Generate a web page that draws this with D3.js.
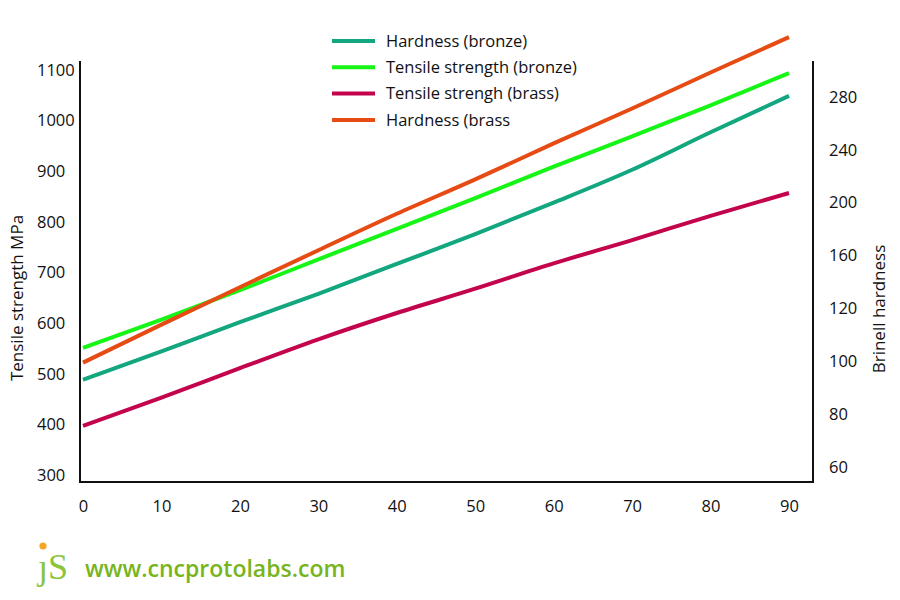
<!DOCTYPE html>
<html>
<head>
<meta charset="utf-8">
<script src="https://cdn.jsdelivr.net/npm/d3@7"></script>
<style>
  body { margin: 0; background: #fff; }
  text { font-family: "Open Sans", "Noto Sans", sans-serif; fill: #111; }
</style>
</head>
<body>
<svg id="chart"></svg>
<script>
// x positions (same for every series)
const xValues = [0, 10, 20, 30, 40, 50, 60, 70, 80, 90];

// values, in left-axis units (MPa)
const hardnessBronze = [488, 544, 602, 658, 717, 776, 838, 903, 977, 1049];
const tensileBronze = [551, 607, 665, 726, 786, 847, 909, 969, 1030, 1094];
const tensileBrass = [397, 453, 511, 568, 620, 668, 718, 764, 812, 857];
const hardnessBrass = [522, 597, 671, 744, 816, 884, 955, 1024, 1095, 1165];

const seriesNames = ["Hardness (bronze)", "Tensile strength (bronze)", "Tensile strengh (brass)", "Hardness (brass"];
const seriesColors = ["#12a77e", "#17f516", "#c3044c", "#e74b14"];

const leftTicks = [300, 400, 500, 600, 700, 800, 900, 1000, 1100];
const rightTicks = [60, 80, 100, 120, 160, 200, 240, 280];
const xTicks = [0, 10, 20, 30, 40, 50, 60, 70, 80, 90];

const width = 900, height = 600;
const frame = { left: 80, right: 813, top: 61, bottom: 482 };

const svg = d3.select('#chart')
  .attr('width', width)
  .attr('height', height);

const x = d3.scaleLinear().domain([0, 90]).range([83, 789]);
const yL = d3.scaleLinear().domain([300, 1100]).range([475, 70]);
// right axis labels are evenly spaced even though the steps are not
const yR = d3.scaleLinear()
  .domain(rightTicks)
  .range(rightTicks.map((d, i) => 467 - i * (370 / (rightTicks.length - 1))));

// axis frame
svg.append('path')
  .attr('d', `M${frame.left},${frame.top}V${frame.bottom}H${frame.right}V${frame.top}`)
  .attr('fill', 'none')
  .attr('stroke', '#111')
  .attr('stroke-width', 2);

function styleTicks(g) {
  g.select('.domain').remove();
  g.selectAll('text')
    .style('font-size', '16.5px')
    .style('font-family', '"Open Sans", sans-serif')
    .style('fill', '#111');
}

// left axis labels
const gL = svg.append('g')
  .attr('transform', 'translate(37,0)')
  .call(d3.axisLeft(yL).tickValues(leftTicks).tickFormat(d3.format('d')).tickSize(0).tickPadding(0));
styleTicks(gL);
gL.selectAll('text')
  .attr('text-anchor', 'start')
  .attr('x', 0);

// right axis labels
const gR = svg.append('g')
  .attr('transform', 'translate(829,0)')
  .call(d3.axisRight(yR).tickValues(rightTicks).tickSize(0).tickPadding(0));
styleTicks(gR);

// x axis labels
const gX = svg.append('g')
  .attr('transform', 'translate(0,500)')
  .call(d3.axisBottom(x).tickValues(xTicks).tickSize(0).tickPadding(0));
styleTicks(gX);

// axis titles
svg.append('text')
  .attr('transform', 'translate(23,298) rotate(-90)')
  .attr('text-anchor', 'middle')
  .style('font-size', '17px')
  .text('Tensile strength MPa');

svg.append('text')
  .attr('transform', 'translate(885,309) rotate(-90)')
  .attr('text-anchor', 'middle')
  .style('font-size', '17px')
  .text('Brinell hardness');

// lines
const allSeries = [hardnessBronze, tensileBronze, tensileBrass, hardnessBrass];
const line = d3.line()
  .x((d, i) => x(xValues[i]))
  .y(d => yL(d))
  .curve(d3.curveMonotoneX);

// draw order: brass strength, bronze hardness, bronze strength, brass hardness
[2, 0, 1, 3].forEach(k => {
  svg.append('path')
    .datum(allSeries[k])
    .attr('d', line)
    .attr('fill', 'none')
    .attr('stroke', seriesColors[k])
    .attr('stroke-width', 4)
    .attr('stroke-linecap', 'butt');
});

// legend
const legend = svg.append('g').attr('transform', 'translate(332,41)');
seriesNames.forEach((name, i) => {
  const row = legend.append('g').attr('transform', `translate(0,${i * 26.3})`);
  row.append('line')
    .attr('x1', 0).attr('x2', 43)
    .attr('stroke', seriesColors[i])
    .attr('stroke-width', 4);
  row.append('text')
    .attr('x', 54)
    .attr('dy', '0.35em')
    .style('font-size', '16.5px')
    .text(name);
});

// watermark
svg.append('circle')
  .attr('cx', 43).attr('cy', 546).attr('r', 3.6)
  .attr('fill', '#f5a623');
svg.append('text')
  .attr('x', 38).attr('y', 579)
  .style('font-family', '"Liberation Serif", serif')
  .style('font-size', '36px')
  .style('fill', '#8cc43c')
  .text('\u0237S');
svg.append('text')
  .attr('x', 85).attr('y', 577)
  .style('font-size', '23px')
  .style('font-weight', 600)
  .style('fill', '#78b41c')
  .text('www.cncprotolabs.com');
</script>
</body>
</html>
